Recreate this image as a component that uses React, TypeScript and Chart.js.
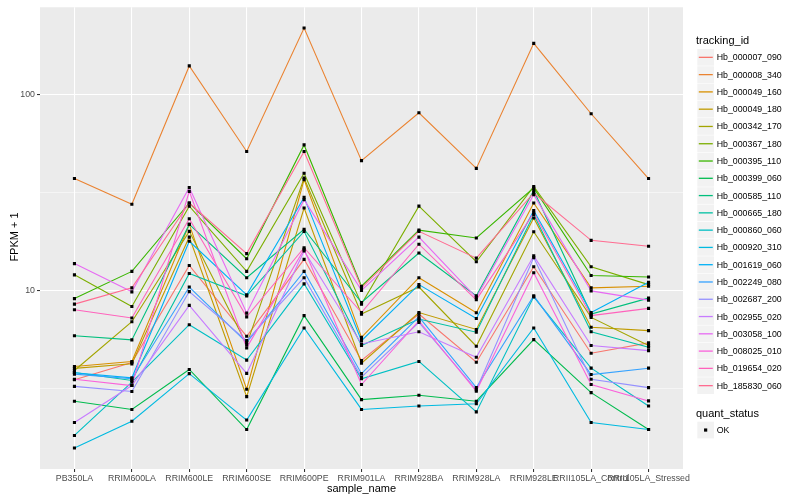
import React, { useEffect, useRef } from "react";
import { Chart, registerables } from "chart.js";

Chart.register(...registerables);

const categories = [
  "PB350LA", "RRIM600LA", "RRIM600LE", "RRIM600SE", "RRIM600PE", "RRIM901LA",
  "RRIM928BA", "RRIM928LA", "RRIM928LE", "RRII105LA_Control", "RRII105LA_Stressed",
];

const seriesNames = [
  "Hb_000007_090", "Hb_000008_340", "Hb_000049_160", "Hb_000049_180", "Hb_000342_170",
  "Hb_000367_180", "Hb_000395_110", "Hb_000399_060", "Hb_000585_110", "Hb_000665_180",
  "Hb_000860_060", "Hb_000920_310", "Hb_001619_060", "Hb_002249_080", "Hb_002687_200",
  "Hb_002955_020", "Hb_003058_100", "Hb_008025_010", "Hb_019654_020", "Hb_185830_060",
];

const hb_000007_090 = [3.5, 4.29, 13.4, 5.83, 14.4, 4.39, 7.57, 4.3, 13.2, 4.78, 5.4];
const hb_000008_340 = [37.2, 27.5, 139.6, 51.1, 218, 45.9, 80.5, 41.9, 182, 79.6, 37.2];
const hb_000049_160 = [4.09, 4.34, 21.7, 3.13, 36.7, 5.76, 11.6, 7.69, 27.9, 10.3, 10.5];
const hb_000049_180 = [4.0, 4.22, 18.7, 2.87, 26.3, 4.25, 7.71, 6.32, 23.4, 6.48, 6.23];
const hb_000342_170 = [3.9, 6.92, 20.0, 5.29, 37.4, 7.57, 10.4, 5.19, 19.9, 7.28, 5.23];
const hb_000367_180 = [12.0, 8.28, 26.9, 12.5, 39.6, 8.51, 26.9, 14.0, 33.9, 13.2, 10.7];
const hb_000395_110 = [9.08, 12.5, 27.9, 14.5, 55.2, 10.5, 20.3, 18.5, 33.3, 11.9, 11.7];
const hb_000399_060 = [2.72, 2.47, 3.95, 1.95, 7.43, 2.77, 2.92, 2.72, 5.61, 3.01, 1.95];
const hb_000585_110 = [5.87, 5.59, 21.7, 11.6, 20.5, 8.67, 15.5, 9.38, 32.3, 7.57, 9.13];
const hb_000665_180 = [3.81, 3.47, 12.2, 9.38, 20.0, 5.23, 7.14, 6.12, 24.4, 6.15, 5.13];
const hb_000860_060 = [1.82, 3.4, 6.68, 4.41, 10.8, 3.54, 4.34, 2.4, 9.27, 4.01, 2.57];
const hb_000920_310 = [1.57, 2.15, 3.76, 2.18, 6.43, 2.47, 2.57, 2.64, 6.43, 2.12, 1.95];
const hb_001619_060 = [3.8, 3.58, 17.8, 9.49, 29.8, 5.54, 10.7, 7.19, 25.5, 7.71, 11.0];
const hb_002249_080 = [3.74, 3.54, 10.4, 5.43, 12.5, 3.76, 7.33, 3.19, 9.38, 3.72, 4.01];
const hb_002687_200 = [3.24, 3.05, 9.86, 5.54, 11.6, 3.61, 6.87, 3.11, 14.7, 3.52, 3.19];
const hb_002955_020 = [2.12, 3.27, 8.38, 3.77, 15.9, 5.33, 6.15, 4.56, 15.0, 5.23, 4.93];
const hb_003058_100 = [13.7, 9.83, 33.5, 7.66, 29.0, 10.0, 18.7, 9.19, 30.8, 9.94, 8.92];
const hb_008025_010 = [3.52, 3.27, 32.0, 5.09, 16.2, 3.31, 7.0, 3.06, 12.3, 3.31, 2.73];
const hb_019654_020 = [7.96, 7.23, 23.2, 7.33, 16.5, 7.71, 17.2, 8.95, 24.8, 7.43, 8.09];
const hb_185830_060 = [8.51, 10.3, 27.9, 15.4, 51.1, 10.3, 20.0, 14.6, 31.4, 18.0, 16.8];

const seriesValues = [
  hb_000007_090, hb_000008_340, hb_000049_160, hb_000049_180, hb_000342_170,
  hb_000367_180, hb_000395_110, hb_000399_060, hb_000585_110, hb_000665_180,
  hb_000860_060, hb_000920_310, hb_001619_060, hb_002249_080, hb_002687_200,
  hb_002955_020, hb_003058_100, hb_008025_010, hb_019654_020, hb_185830_060,
];

const colors = [
  "#F8766D", "#EA8331", "#D89000", "#C09B00", "#A3A500", "#7CAE00", "#39B600",
  "#00BB4E", "#00BF7D", "#00C1A3", "#00BFC4", "#00BAE0", "#00B0F6", "#35A2FF",
  "#9590FF", "#C77CFF", "#E76BF3", "#FA62DB", "#FF62BC", "#FF6C91",
];

const yTickValues = [3.1623, 10, 31.623, 100];
const yMajorTicks = [10, 100];
const quantStatus = ["OK"];

const FONT = "'Liberation Sans', Arial, Helvetica, sans-serif";

const bgPlugin = {
  id: "panelBg",
  beforeDraw(chart: any) {
    const { ctx, chartArea } = chart;
    if (!chartArea) return;
    ctx.save();
    ctx.fillStyle = "#EBEBEB";
    ctx.fillRect(chartArea.left, chartArea.top, chartArea.right - chartArea.left, chartArea.bottom - chartArea.top);
    ctx.restore();
  },
};

const isMajor = (v: number) => yMajorTicks.some((m) => Math.abs(m - v) < 1e-6);

export default function App() {
  const canvasRef = useRef<HTMLCanvasElement | null>(null);

  useEffect(() => {
    if (!canvasRef.current) return;
    const lineSets = seriesValues.map((vals, si) => ({
      label: seriesNames[si],
      data: vals.map((v, i) => ({ x: i, y: v })),
      borderColor: colors[si],
      backgroundColor: colors[si],
      borderWidth: 1.1,
      pointRadius: 0,
      fill: false,
      tension: 0,
      order: 100 - si,
    }));
    const pointSet = {
      label: "quant_status",
      data: seriesValues.flatMap((vals) => vals.map((v, i) => ({ x: i, y: v }))),
      showLine: false,
      borderColor: "#000000",
      backgroundColor: "#000000",
      pointStyle: "rect",
      pointRadius: 2.2,
      pointBorderWidth: 0,
      order: -1,
    };
    const chart = new Chart(canvasRef.current, {
      type: "line",
      data: { datasets: [...lineSets, pointSet] as any },
      plugins: [bgPlugin],
      options: {
        animation: false,
        responsive: false,
        maintainAspectRatio: false,
        layout: { padding: { left: 0, right: 117, top: 5, bottom: 0 } },
        plugins: { legend: { display: false }, tooltip: { enabled: false } },
        scales: {
          x: {
            type: "linear",
            min: -0.6,
            max: 10.6,
            afterBuildTicks: (s: any) => {
              s.ticks = categories.map((_, i) => ({ value: i }));
            },
            afterFit: (s: any) => {
              s.height = 31;
            },
            ticks: {
              autoSkip: false,
              maxRotation: 0,
              minRotation: 0,
              padding: 1,
              color: "#4D4D4D",
              font: { family: FONT, size: 8.8 },
              callback: (v: any) => categories[Math.round(v)] ?? "",
            },
            grid: { color: "#FFFFFF", lineWidth: 1.07, tickLength: 3, tickColor: "#333333", drawTicks: true },
            border: { display: false },
          },
          y: {
            type: "logarithmic",
            min: 1.227,
            max: 278,
            afterBuildTicks: (s: any) => {
              s.ticks = yTickValues.map((v) => ({ value: v, major: false }));
            },
            afterFit: (s: any) => {
              s.width = 40;
            },
            ticks: {
              autoSkip: false,
              padding: 2,
              color: "#4D4D4D",
              font: { family: FONT, size: 8.8 },
              callback: (v: any) => (isMajor(Number(v)) ? String(Math.round(Number(v))) : ""),
            },
            grid: {
              color: "#FFFFFF",
              lineWidth: (c: any) => (c.tick && isMajor(c.tick.value) ? 1.07 : 0.53),
              tickLength: 3,
              tickColor: (c: any) => (c.tick && isMajor(c.tick.value) ? "#333333" : "rgba(0,0,0,0)"),
              drawTicks: true,
            },
            border: { display: false },
          },
        },
      } as any,
    });
    return () => chart.destroy();
  }, []);

  const keyTop0 = 48.7;
  const keyStep = 17.28;
  const qsKeyTop = 421.4;

  return (
    <div style={{ position: "absolute", left: 0, top: 0, width: 800, height: 500, background: "#FFFFFF", fontFamily: FONT }}>
      <canvas ref={canvasRef} width={800} height={500} style={{ position: "absolute", left: 0, top: 0, width: 800, height: 500 }} />
      <svg width={800} height={500} style={{ position: "absolute", left: 0, top: 0 }}>
        {seriesNames.map((name, i) => {
          const top = keyTop0 + i * keyStep;
          return (
            <g key={name}>
              <rect x={697.3} y={top + 0.3} width={keyStep - 0.6} height={keyStep - 0.6} fill="#F2F2F2" />
              <line x1={698.8} x2={697 + keyStep - 1.5} y1={top + keyStep / 2} y2={top + keyStep / 2} stroke={colors[i]} strokeWidth={1.3} />
            </g>
          );
        })}
        {quantStatus.map((q, i) => {
          const top = qsKeyTop + i * keyStep;
          return (
            <g key={q}>
              <rect x={697.3} y={top + 0.3} width={keyStep - 0.6} height={keyStep - 0.6} fill="#F2F2F2" />
              <rect x={697 + keyStep / 2 - 1.6} y={top + keyStep / 2 - 1.6} width={3.2} height={3.2} fill="#000" />
            </g>
          );
        })}
      </svg>
      <div style={{ position: "absolute", left: 14, top: 237, transform: "translate(-50%, -50%) rotate(-90deg)", fontSize: 11, whiteSpace: "nowrap", color: "#000" }}>
        FPKM + 1
      </div>
      <div style={{ position: "absolute", left: 361.5, top: 488, transform: "translate(-50%, -50%)", fontSize: 11, whiteSpace: "nowrap", color: "#000" }}>
        sample_name
      </div>
      <div style={{ position: "absolute", left: 696, top: 40, transform: "translateY(-50%)", fontSize: 11, whiteSpace: "nowrap", color: "#000" }}>
        tracking_id
      </div>
      {seriesNames.map((name, i) => (
        <div key={name} style={{ position: "absolute", left: 716.7, top: keyTop0 + i * keyStep + keyStep / 2, transform: "translateY(-50%)", fontSize: 8.8, whiteSpace: "nowrap", color: "#000" }}>
          {name}
        </div>
      ))}
      <div style={{ position: "absolute", left: 696, top: 413, transform: "translateY(-50%)", fontSize: 11, whiteSpace: "nowrap", color: "#000" }}>
        quant_status
      </div>
      {quantStatus.map((q, i) => (
        <div key={q} style={{ position: "absolute", left: 716.7, top: qsKeyTop + i * keyStep + keyStep / 2, transform: "translateY(-50%)", fontSize: 8.8, whiteSpace: "nowrap", color: "#000" }}>
          {q}
        </div>
      ))}
    </div>
  );
}
